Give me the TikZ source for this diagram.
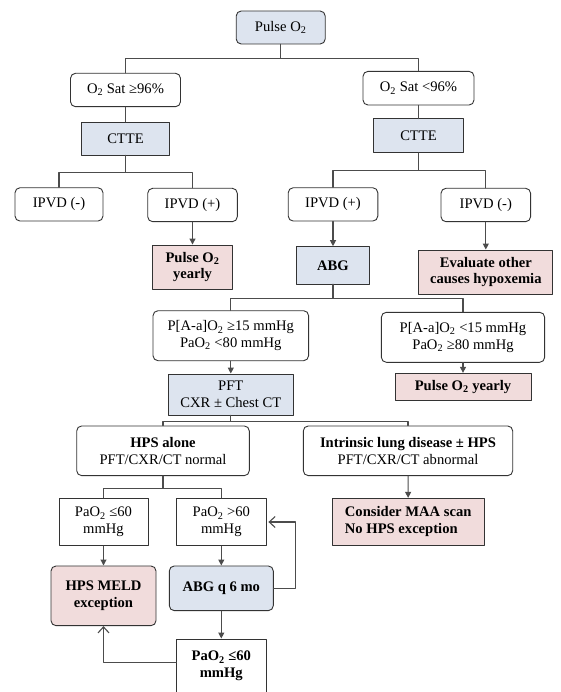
\documentclass[tikz,border=0pt]{standalone}
\usepackage{fontspec}
\setmainfont{Liberation Serif}
\usepackage{tikz}
\usetikzlibrary{arrows.meta}
\definecolor{boxline}{rgb}{0.2, 0.2, 0.2}
\definecolor{linkgray}{rgb}{0.3, 0.3, 0.3}
\definecolor{lightblue}{rgb}{0.866, 0.894, 0.937}
\definecolor{lightpink}{rgb}{0.945, 0.863, 0.863}
\tikzset{
	cell/.style={draw=boxline, line width=0.9pt, fill=white, inner sep=0pt, align=center, font=\fontsize{14.6}{16.6}\selectfont},
	wh/.style 2 args={minimum width=#1pt, minimum height=#2pt},
	rnd/.style={cell, rounded corners=5pt},
	bluecell/.style={fill=lightblue},
	pinkcell/.style={fill=lightpink, font=\fontsize{14.6}{16.6}\selectfont\bfseries},
	link/.style={draw=linkgray, line width=1.1pt},
	arrow/.style={link, -{Triangle[length=6pt, width=6pt]}},
	back/.style={link, -{Straight Barb[length=6pt, width=11pt]}}
}

\begin{document}
\begin{tikzpicture}[line cap=round,line join=round, x=1pt,y=-1pt]
				\useasboundingbox (0,0) rectangle (560,692);
				\node[rnd, bluecell, wh={89}{33}] (pulse) at (280.7,27.5) {Pulse O\textsubscript{2}};
				\node[rnd, wh={110}{33.4}] (satHi) at (125.5,90) {O\textsubscript{2} Sat ≥96\%};
				\node[rnd, wh={111}{33.7}] (satLo) at (418.5,88.2) {O\textsubscript{2} Sat <96\%};
				\node[cell, bluecell, wh={88.6}{32.7}] (ctteL) at (125.5,138.7) {CTTE};
				\node[cell, bluecell, wh={90}{33.7}] (ctteR) at (418.5,135.8) {CTTE};
				\node[rnd, wh={88}{33.3}] (ipvdLn) at (59,204.4) {IPVD (-)};
				\node[rnd, wh={89.6}{33.4}] (ipvdLp) at (192.5,205) {IPVD (+)};
				\node[rnd, wh={89.6}{33.3}] (ipvdRp) at (333,204.4) {IPVD (+)};
				\node[rnd, wh={89.6}{33.4}] (ipvdRn) at (485.8,205) {IPVD (-)};
				\node[cell, pinkcell, wh={80.6}{44}] (pulseyrL) at (192.5,267) {Pulse O\textsubscript{2}\\yearly};
				\node[cell, pinkcell, fill=lightblue, wh={72.6}{37.3}] (abg) at (333,265.3) {ABG};
				\node[cell, pinkcell, wh={134}{44}] (evaluate) at (485.8,272) {Evaluate other\\causes hypoxemia};
				\node[rnd, wh={155.6}{50}] (aaHi) at (230.8,335.7) {P[A-a]O\textsubscript{2} ≥15 mmHg\\PaO\textsubscript{2} <80 mmHg};
				\node[rnd, wh={163.3}{50}] (aaLo) at (463,337.3) {P[A-a]O\textsubscript{2} <15 mmHg\\PaO\textsubscript{2} ≥80 mmHg};
				\node[cell, bluecell, wh={124.3}{41}] (pft) at (230.8,394.5) {PFT\\CXR ± Chest CT};
				\node[cell, pinkcell, wh={136}{27.4}] (pulseyrR) at (463,387) {Pulse O\textsubscript{2} yearly};
				\node[rnd, wh={172.6}{49.7}] (hps) at (163,450.8) {\textbf{HPS alone}\\PFT/CXR/CT normal};
				\node[rnd, wh={209.4}{49.7}] (intr) at (408,450.8) {\textbf{Intrinsic lung disease ± HPS}\\PFT/CXR/CT abnormal};
				\node[cell, wh={89}{47.4}] (paoLo) at (103.5,522) {PaO\textsubscript{2} ≤60\\mmHg};
				\node[cell, wh={89.3}{47.4}] (paoHi) at (221.3,522) {PaO\textsubscript{2} >60\\mmHg};
				\node[cell, pinkcell, align=left, wh={151.7}{46.7}] (maa) at (408.2,521.7) {Consider MAA scan\\No HPS exception};
				\node[rnd, pinkcell, wh={105}{59.7}] (meld) at (103.5,595.8) {HPS MELD\\exception};
				\node[rnd, pinkcell, fill=lightblue, wh={104}{44.7}] (abg6) at (221.3,588.3) {ABG q 6 mo};
				\node[cell, font=\fontsize{14.6}{16.6}\selectfont\bfseries, wh={89.3}{54}] (paoEnd) at (221.3,666) {PaO\textsubscript{2} ≤60\\mmHg};
				\foreach \a/\b/\d in {pulse/satHi/13.7, pulse/satLo/13.7, ctteL/ipvdLn/17.3, ctteL/ipvdLp/17.3, ctteR/ipvdRp/17.3, ctteR/ipvdRn/17.3, abg/aaHi/14.3, abg/aaLo/14.3, pft/hps/6, pft/intr/6, hps/paoLo/12, hps/paoHi/12}
				\draw[link] (\a.south) -- ++(0,\d) -| (\b.north);
				\draw[link] (satHi) -- (ctteL);
				\draw[link] (satLo) -- (ctteR);
				\foreach \a/\b in {ipvdLp/pulseyrL, ipvdRp/abg, ipvdRn/evaluate, aaHi/pft, aaLo/pulseyrR, intr/maa, paoLo/meld, paoHi/abg6, abg6/paoEnd}
				\draw[arrow] (\a) -- (\b);
				\draw[back, shorten >=2pt] (abg6.east) -- ++(21.7,0) |- (paoHi.east);
				\draw[back] ([yshift=3.5pt]paoEnd.west) -| (meld.south);
			\end{tikzpicture}
\end{document}
